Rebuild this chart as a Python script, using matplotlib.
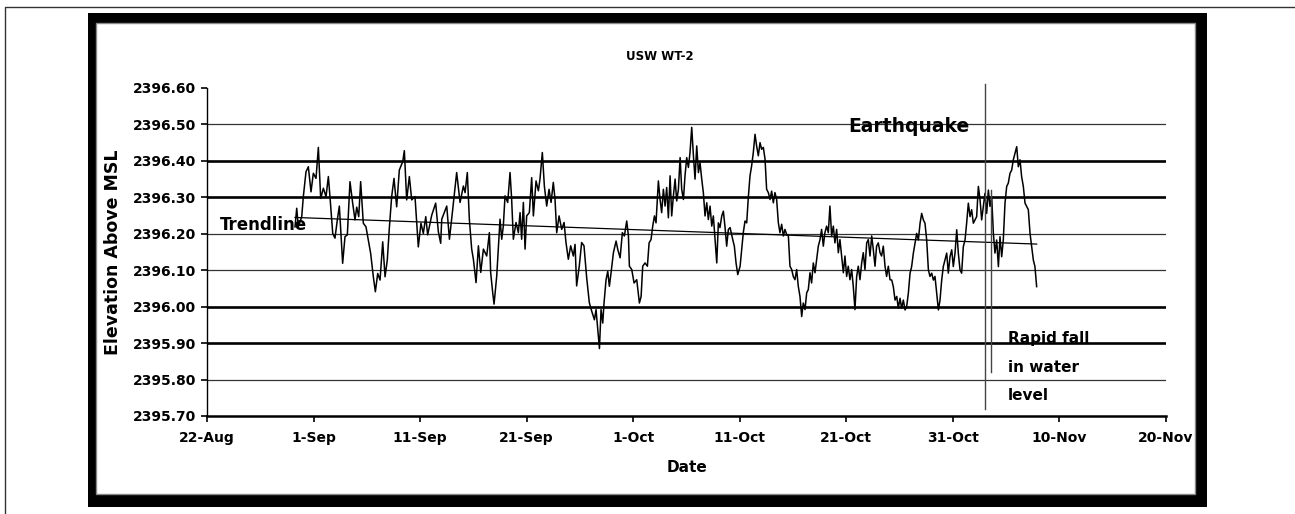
"""Water level record for well USW WT-2 with linear trend and earthquake marker."""
import matplotlib.dates as mdates
import matplotlib.pyplot as plt
import numpy as np
import pandas as pd
from matplotlib.lines import Line2D
from matplotlib.patches import Rectangle

START = pd.Timestamp("2002-08-22")

# Days since 22-Aug and water level elevation (ft above MSL).
day_offset = [
    8.26, 8.42, 8.57, 8.89, 9.04, 9.29, 9.51, 9.76, 9.98, 10.23,
    10.45, 10.67, 10.92, 11.17, 11.39, 11.54, 11.80, 12.01, 12.23, 12.42,
    12.73, 12.95, 13.17, 13.42, 13.67, 13.89, 14.05, 14.24, 14.42, 14.67,
    14.92, 15.14, 15.36, 15.61, 15.80, 16.02, 16.24, 16.49, 16.71, 16.92,
    17.11, 17.33, 17.55, 17.80, 18.05, 18.37, 18.52, 18.74, 18.99, 19.21,
    19.52, 19.83, 20.08, 20.30, 20.53, 20.71, 21.09, 21.46, 21.71, 21.93,
    22.03, 22.50, 22.75, 23.06, 23.43, 23.75, 24.06, 24.22, 24.43, 24.62,
    24.84, 25.00, 25.25, 25.47, 25.69, 25.94, 26.25, 26.50, 26.62, 26.81,
    26.94, 27.19, 27.34, 27.50, 27.66, 27.81, 27.97, 28.22, 28.44, 28.59,
    28.75, 29.00, 29.22, 29.38, 29.53, 29.69, 29.85, 30.00, 30.25, 30.47,
    30.63, 30.88, 31.10, 31.25, 31.47, 31.66, 31.88, 32.10, 32.29, 32.50,
    32.66, 32.82, 33.04, 33.29, 33.51, 33.69, 33.91, 34.13, 34.38, 34.54,
    34.69, 34.94, 35.16, 35.38, 35.63, 35.88, 36.10,
    36.36, 36.51, 36.67, 36.83, 36.98, 37.14, 37.26, 37.45, 37.61, 37.76,
    37.92, 38.14, 38.39, 38.55, 38.77, 38.98, 39.17, 39.39, 39.55, 39.64,
    39.86, 40.08, 40.33, 40.58, 40.74, 40.89, 41.11, 41.33, 41.49, 41.67,
    41.83, 41.99, 42.14, 42.36, 42.52, 42.67, 42.83, 42.99, 43.14, 43.30,
    43.46, 43.61, 43.77, 43.93, 44.08, 44.24, 44.40, 44.55, 44.71, 44.86,
    45.02, 45.18, 45.33, 45.49, 45.65, 45.80, 45.96, 46.12, 46.27, 46.43,
    46.58, 46.74, 46.90, 47.05, 47.21, 47.37, 47.52, 47.68, 47.84, 47.99,
    48.14, 48.31, 48.46, 48.62, 48.77, 48.93, 49.09, 49.34, 49.49, 49.65,
    49.81, 50.03,
    50.18, 50.33, 50.49, 50.65, 50.80, 50.96, 51.11, 51.27, 51.43, 51.58,
    51.74, 51.90, 52.05, 52.21, 52.37, 52.52, 52.68, 52.84, 52.99, 53.15,
    53.30, 53.46, 53.62, 53.77, 53.93, 54.09, 54.24, 54.40, 54.56, 54.71,
    54.87, 55.02, 55.18, 55.34, 55.49, 55.65, 55.81, 55.96, 56.12, 56.28,
    56.43, 56.59, 56.74, 56.90, 57.06, 57.21, 57.37, 57.53, 57.68, 57.84,
    57.99, 58.15, 58.31, 58.46, 58.62, 58.78, 58.93, 59.09, 59.25, 59.40,
    59.56, 59.72, 59.87, 60.03, 60.18, 60.34, 60.50, 60.65, 60.81, 60.97,
    61.12, 61.28, 61.44, 61.59, 61.75, 61.91, 62.06, 62.22, 62.38, 62.53,
    62.69, 62.84, 63.00, 63.16, 63.31, 63.47, 63.63, 63.78, 63.94, 64.10,
    64.26, 64.41, 64.57, 64.73, 64.88, 65.04, 65.19, 65.35, 65.51, 65.66,
    65.82, 65.98, 66.13, 66.29, 66.45, 66.60, 66.76, 66.92, 67.07, 67.23,
    67.38, 67.54, 67.70, 67.85, 68.01, 68.17, 68.32, 68.48, 68.64, 68.79,
    68.95, 69.10, 69.26, 69.42, 69.57, 69.73, 69.89, 70.04, 70.20, 70.36,
    70.51, 70.67, 70.82, 70.98, 71.14, 71.29, 71.45, 71.61, 71.76, 71.92,
    72.08, 72.23, 72.39, 72.55, 72.70, 72.86, 73.01, 73.17, 73.33, 73.48,
    73.64, 73.80, 73.95, 74.11, 74.27, 74.42, 74.58, 74.73, 74.89, 75.05,
    75.20, 75.36, 75.52, 75.67, 75.83, 75.99, 76.14, 76.30, 76.45, 76.61,
    76.77, 76.92, 77.08, 77.24, 77.39, 77.55, 77.70, 77.86,
]

elevation = [
    2396.219, 2396.270, 2396.219, 2396.247, 2396.302, 2396.370, 2396.384, 2396.315, 2396.366, 2396.352,
    2396.437, 2396.297, 2396.325, 2396.302, 2396.357, 2396.302, 2396.201, 2396.188, 2396.238, 2396.276,
    2396.119, 2396.192, 2396.197, 2396.343, 2396.284, 2396.238, 2396.273, 2396.247, 2396.343, 2396.229,
    2396.219, 2396.183, 2396.146, 2396.082, 2396.041, 2396.091, 2396.073, 2396.178, 2396.082, 2396.128,
    2396.215, 2396.302, 2396.352, 2396.274, 2396.375, 2396.398, 2396.428, 2396.293, 2396.357, 2396.293,
    2396.302, 2396.164, 2396.229, 2396.201, 2396.247, 2396.197, 2396.251, 2396.284, 2396.206, 2396.174,
    2396.240, 2396.276, 2396.185, 2396.267, 2396.368, 2396.286, 2396.331, 2396.313, 2396.368, 2396.240,
    2396.158, 2396.130, 2396.066, 2396.167, 2396.094, 2396.158, 2396.139, 2396.203, 2396.094, 2396.039,
    2396.007, 2396.084, 2396.158, 2396.240, 2396.185, 2396.222, 2396.304, 2396.286, 2396.368, 2396.295,
    2396.185, 2396.231, 2396.203, 2396.258, 2396.185, 2396.286, 2396.158, 2396.249, 2396.258, 2396.354,
    2396.249, 2396.345, 2396.318, 2396.350, 2396.423, 2396.331, 2396.276, 2396.322, 2396.286, 2396.341,
    2396.295, 2396.203, 2396.249, 2396.212, 2396.231, 2396.176, 2396.130, 2396.167, 2396.139, 2396.171,
    2396.057, 2396.112, 2396.176, 2396.167, 2396.080, 2396.011, 2395.988,
    2395.964, 2395.992, 2395.937, 2395.885, 2395.992, 2395.955, 2396.010, 2396.074, 2396.097, 2396.056,
    2396.093, 2396.148, 2396.180, 2396.157, 2396.134, 2396.203, 2396.194, 2396.235, 2396.194, 2396.111,
    2396.102, 2396.065, 2396.074, 2396.010, 2396.028, 2396.111, 2396.120, 2396.111, 2396.175, 2396.184,
    2396.221, 2396.249, 2396.230, 2396.345, 2396.294, 2396.258, 2396.322, 2396.276, 2396.327, 2396.244,
    2396.359, 2396.249, 2396.304, 2396.350, 2396.290, 2396.322, 2396.409, 2396.322, 2396.294, 2396.359,
    2396.409, 2396.382, 2396.423, 2396.492, 2396.414, 2396.350, 2396.441, 2396.368, 2396.395, 2396.350,
    2396.313, 2396.249, 2396.285, 2396.239, 2396.276, 2396.221, 2396.249, 2396.184, 2396.120, 2396.230,
    2396.217, 2396.249, 2396.262, 2396.217, 2396.166, 2396.212, 2396.217, 2396.184, 2396.166, 2396.120,
    2396.088, 2396.111,
    2396.157, 2396.203, 2396.235, 2396.230, 2396.299, 2396.359, 2396.386, 2396.423, 2396.473, 2396.441,
    2396.414, 2396.450, 2396.432, 2396.437, 2396.405, 2396.322, 2396.313, 2396.294, 2396.317, 2396.285,
    2396.313, 2396.294, 2396.230, 2396.203, 2396.226, 2396.194, 2396.212, 2396.198, 2396.194, 2396.111,
    2396.102, 2396.083, 2396.074, 2396.102, 2396.056, 2396.028, 2395.973, 2396.010, 2395.992, 2396.038,
    2396.047, 2396.093, 2396.065, 2396.120, 2396.093, 2396.129, 2396.166, 2396.184, 2396.212, 2396.166,
    2396.203, 2396.221, 2396.203, 2396.276, 2396.194, 2396.221, 2396.175, 2396.212, 2396.148, 2396.184,
    2396.139, 2396.093, 2396.139, 2396.083, 2396.111, 2396.074, 2396.102, 2396.056, 2395.992, 2396.083,
    2396.111, 2396.074, 2396.120, 2396.148, 2396.102, 2396.175, 2396.184, 2396.139, 2396.194, 2396.157,
    2396.111, 2396.166, 2396.175, 2396.148, 2396.139, 2396.166, 2396.111, 2396.083, 2396.111, 2396.074,
    2396.073, 2396.055, 2396.018, 2396.028, 2395.996, 2396.023, 2395.996, 2396.018, 2395.991, 2396.000,
    2396.037, 2396.092, 2396.110, 2396.147, 2396.174, 2396.201, 2396.183, 2396.229, 2396.256, 2396.238,
    2396.229, 2396.183, 2396.101, 2396.083, 2396.092, 2396.073, 2396.083, 2396.037, 2395.991, 2396.018,
    2396.073, 2396.110, 2396.128, 2396.147, 2396.092, 2396.137, 2396.156, 2396.110, 2396.147, 2396.211,
    2396.147, 2396.101, 2396.092, 2396.165, 2396.183, 2396.229, 2396.284, 2396.247, 2396.266, 2396.229,
    2396.238, 2396.247, 2396.330, 2396.293, 2396.238, 2396.275, 2396.311, 2396.256, 2396.320, 2396.275,
    2396.302, 2396.201, 2396.147, 2396.183, 2396.110, 2396.192, 2396.137, 2396.183, 2396.284, 2396.330,
    2396.339, 2396.366, 2396.375, 2396.403, 2396.421, 2396.439, 2396.384, 2396.403, 2396.357, 2396.330,
    2396.284, 2396.275, 2396.266, 2396.201, 2396.165, 2396.128, 2396.110, 2396.055,
]

y_ticks = [2395.70, 2395.80, 2395.90, 2396.00, 2396.10, 2396.20, 2396.30, 2396.40, 2396.50, 2396.60]
heavy_levels = [2395.90, 2396.00, 2396.30, 2396.40]
tick_dates = pd.date_range("2002-08-22", "2002-11-20", freq="10D")

quake_day = 73.02   # Denali earthquake
fall_day = 73.58    # start of the rapid drop

assert len(day_offset) == len(elevation)

plt.rcParams["font.family"] = "DejaVu Sans"
plt.rcParams["font.weight"] = "bold"

W, H = 1295, 514
fig = plt.figure(figsize=(W / 100, H / 100), dpi=100, facecolor="white")

# Page border and the heavy chart frame.
fig.add_artist(Line2D([5 / W, 5 / W, 1.0], [0.0, 1 - 7 / H, 1 - 7 / H],
                      color="#333333", lw=1.0, zorder=-10))
fig.add_artist(Rectangle((88 / W, 1 - 507 / H), 1119 / W, 494 / H,
                         facecolor="black", edgecolor="none", zorder=-9))
fig.add_artist(Rectangle((96 / W, 1 - 494 / H), 1099 / W, 471 / H,
                         facecolor="white", edgecolor="#888888", lw=1.0, zorder=-8))

ax = fig.add_axes([207 / W, 1 - 416 / H, 959 / W, 328 / H])
ax.set_facecolor("none")

times = (START + pd.to_timedelta(day_offset, unit="D")).to_numpy()
days = np.asarray(day_offset)
levels = np.asarray(elevation)

# Horizontal gridlines, alternating heavy and light.
for v in y_ticks[1:-1]:
    heavy = any(abs(v - h) < 1e-6 for h in heavy_levels)
    ax.axhline(v, color="black" if heavy else "#333333",
               lw=1.9 if heavy else 0.9, zorder=1)

ax.plot(times, levels, color="black", lw=1.1, zorder=3)

# Linear trendline over the record.
slope, intercept = np.polyfit(days, levels, 1)
trend_days = np.array([days[0], days[-1]])
ax.plot(START + pd.to_timedelta(trend_days, unit="D"), intercept + slope * trend_days,
        color="black", lw=0.9, zorder=4)

quake_t = START + pd.Timedelta(days=quake_day)
fall_t = START + pd.Timedelta(days=fall_day)
ax.plot([quake_t, quake_t], [2396.61, 2395.72], color="#444444", lw=1.0,
        clip_on=False, zorder=5)
ax.plot([fall_t, fall_t], [2396.32, 2395.82], color="#444444", lw=1.0, zorder=5)

ax.text(START + pd.Timedelta(days=1.2), 2396.224, "Trendline", fontsize=12,
        ha="left", va="center", zorder=6)
ax.text(START + pd.Timedelta(days=60.16), 2396.493, "Earthquake", fontsize=13.5,
        ha="left", va="center", zorder=6)
ax.text(START + pd.Timedelta(days=75.18), 2395.834, "Rapid fall\nin water\nlevel",
        fontsize=11, ha="left", va="center", linespacing=2.1, zorder=6)

ax.set_xlim(tick_dates[0], tick_dates[-1])
ax.set_ylim(y_ticks[0], y_ticks[-1])
ax.set_xticks(tick_dates)
ax.xaxis.set_major_formatter(mdates.DateFormatter("%-d-%b"))
ax.set_yticks(y_ticks)
ax.yaxis.set_major_formatter(plt.FormatStrFormatter("%.2f"))

for side in ("top", "right"):
    ax.spines[side].set_visible(False)
ax.spines["left"].set_linewidth(1.0)
ax.spines["bottom"].set_linewidth(1.8)
ax.tick_params(axis="both", direction="out", length=4, width=1.2, labelsize=10)
ax.tick_params(axis="y", pad=4)
ax.tick_params(axis="x", pad=7)

fig.text(660 / W, 1 - 57 / H, "USW WT-2", fontsize=8.5, ha="center", va="center")
fig.text(113 / W, 1 - 252 / H, "Elevation Above MSL", fontsize=12.5,
         rotation=90, ha="center", va="center")
fig.text(687 / W, 1 - 468 / H, "Date", fontsize=11, ha="center", va="center")

fig.savefig("out.png", dpi=100, facecolor="white")
